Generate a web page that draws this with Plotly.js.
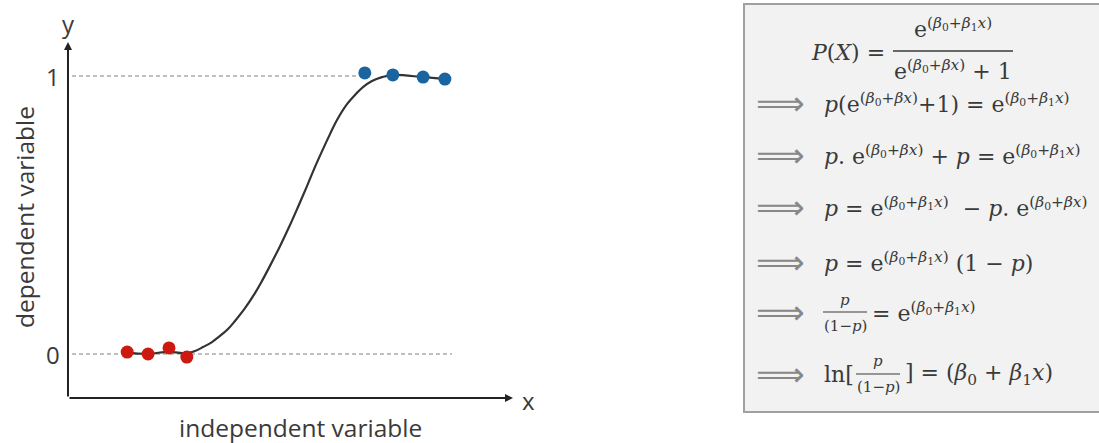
<!DOCTYPE html>
<html><head><meta charset="utf-8">
<script src="https://cdn.plot.ly/plotly-3.0.1.min.js"></script>
<style>html,body{margin:0;padding:0;background:#fff}</style>
</head><body><div id="chart" style="width:1099px;height:443px"></div>
<script>
// data (x: axis units 0..10, y: probability)
const class0X = [1.33, 1.80, 2.27, 2.67];
const class0Y = [0.007, 0.0, 0.022, -0.011];
const class1X = [6.67, 7.30, 7.98, 8.47];
const class1Y = [1.011, 1.004, 0.996, 0.989];
const curveX = [1.33, 1.80, 2.27, 2.67, 2.854, 3.034, 3.236, 3.416, 3.596, 3.753, 3.978, 4.202, 4.360, 4.539, 4.764, 4.989, 5.169, 5.371, 5.551, 5.730, 5.888, 6.045, 6.270, 6.449, 6.629, 6.831, 7.056, 7.303, 7.98, 8.47];
const curveY = [0.004, 0.001, 0.008, 0.003, 0.011, 0.025, 0.043, 0.065, 0.090, 0.119, 0.165, 0.219, 0.263, 0.317, 0.388, 0.464, 0.529, 0.604, 0.673, 0.737, 0.791, 0.842, 0.899, 0.932, 0.960, 0.982, 0.996, 1.004, 0.996, 0.989];
const tickVals = [0, 1];
const tickText = ['0', '1'];
const xAxisLabel = 'independent variable';
const yAxisLabel = 'dependent variable';
const eqLines = [
  '<i>p</i>(e<sup>(<i>β</i><sub>0</sub>+<i>βx</i>)</sup>+1) = e<sup>(<i>β</i><sub>0</sub>+<i>β</i><sub>1</sub><i>x</i>)</sup>',
  '<i>p</i>. e<sup>(<i>β</i><sub>0</sub>+<i>βx</i>)</sup> + <i>p</i> = e<sup>(<i>β</i><sub>0</sub>+<i>β</i><sub>1</sub><i>x</i>)</sup>',
  '<i>p</i> = e<sup>(<i>β</i><sub>0</sub>+<i>β</i><sub>1</sub><i>x</i>)</sup>  − <i>p</i>. e<sup>(<i>β</i><sub>0</sub>+<i>βx</i>)</sup>',
  '<i>p</i> = e<sup>(<i>β</i><sub>0</sub>+<i>β</i><sub>1</sub><i>x</i>)</sup> (1 − <i>p</i>)'
];

const W = 1099, H = 443;
const PX = v => v / W, PY = v => 1 - v / H;
const axisY = -0.158, axisXEnd = 10, axisYEnd = 1.122;
const txt = '#3a3a3a';
const serif = 'DejaVu Serif, serif';
const sans = 'Open Sans, sans-serif';

const traces = [
  {x: curveX, y: curveY, mode: 'lines', line: {color: '#333', width: 2.2, shape: 'spline', smoothing: 1}, hoverinfo: 'skip'},
  {x: class0X, y: class0Y, mode: 'markers', marker: {color: '#cc1a10', size: 13}},
  {x: class1X, y: class1Y, mode: 'markers', marker: {color: '#1a64a0', size: 13}}
];

const ann = [];
const A = o => ann.push(Object.assign({xref: 'paper', yref: 'paper', xanchor: 'center', yanchor: 'middle', showarrow: false}, o));
// axis arrows
ann.push({x: axisXEnd, y: axisY, ax: 0, ay: axisY, axref: 'x', ayref: 'y', xref: 'x', yref: 'y', text: '', showarrow: true, arrowhead: 2, arrowsize: 0.8, arrowwidth: 2, arrowcolor: '#222', standoff: 0, startstandoff: 0});
ann.push({x: 0, y: axisYEnd, ax: 0, ay: axisY, axref: 'x', ayref: 'y', xref: 'x', yref: 'y', text: '', showarrow: true, arrowhead: 2, arrowsize: 0.8, arrowwidth: 2, arrowcolor: '#222', standoff: 0, startstandoff: 0});
tickVals.forEach((v, i) => A({x: -0.34, y: v, xref: 'x', yref: 'y', text: tickText[i], font: {family: sans, size: 24, color: txt}}));
A({x: PX(68), y: PY(23), text: 'y', font: {family: sans, size: 24, color: txt}});
A({x: PX(528), y: PY(400), text: 'x', font: {family: sans, size: 24, color: txt}});
A({x: PX(300), y: PY(427), text: xAxisLabel, font: {family: sans, size: 24.5, color: txt}});
A({x: PX(24), y: PY(217), text: yAxisLabel, textangle: -90, font: {family: sans, size: 24.5, color: txt}});

// equations
const ef = {family: serif, size: 22, color: txt};
const arrowF = {family: 'DejaVu Sans', size: 34, color: '#888'};
A({x: PX(887), y: PY(52), xanchor: 'right', text: '<i>P</i>(<i>X</i>) =', font: ef});
A({x: PX(953), y: PY(28), text: 'e<sup>(<i>β</i><sub>0</sub>+<i>β</i><sub>1</sub><i>x</i>)</sup>', font: ef});
A({x: PX(953), y: PY(70), text: 'e<sup>(<i>β</i><sub>0</sub>+<i>βx</i>)</sup> + 1', font: ef});
const rowY = [103, 155, 207, 262, 312, 374];
rowY.forEach(y => A({x: PX(780), y: PY(y), text: '⟹', font: arrowF}));
eqLines.forEach((t, i) => A({x: PX(822), y: PY(rowY[i]), xanchor: 'left', text: t, font: ef}));
const sf = {family: serif, size: 15, color: txt};
// row 6
A({x: PX(845), y: PY(300), text: '<i>p</i>', font: sf});
A({x: PX(845), y: PY(326), text: '(1−<i>p</i>)', font: sf});
A({x: PX(870), y: PY(312), xanchor: 'left', text: '= e<sup>(<i>β</i><sub>0</sub>+<i>β</i><sub>1</sub><i>x</i>)</sup>', font: ef});
// row 7
A({x: PX(822), y: PY(374), xanchor: 'left', text: 'ln[', font: ef});
A({x: PX(878), y: PY(361), text: '<i>p</i>', font: sf});
A({x: PX(878), y: PY(387), text: '(1−<i>p</i>)', font: sf});
A({x: PX(903), y: PY(374), xanchor: 'left', text: '] = (<i>β</i><sub>0</sub> + <i>β</i><sub>1</sub><i>x</i>)', font: ef});

const shapes = [
  {type: 'line', xref: 'x', yref: 'y', x0: 0.09, x1: 8.63, y0: 0, y1: 0, line: {color: '#aaa', width: 1.5, dash: '4px,3px'}, layer: 'below'},
  {type: 'line', xref: 'x', yref: 'y', x0: 0.09, x1: 6.67, y0: 1, y1: 1, line: {color: '#aaa', width: 1.5, dash: '4px,3px'}, layer: 'below'},
  {type: 'rect', xref: 'paper', yref: 'paper', x0: PX(744), x1: PX(1104), y0: PY(412), y1: PY(4), fillcolor: '#f2f2f2', line: {color: '#a0a0a0', width: 2}, layer: 'below'},
  {type: 'line', xref: 'paper', yref: 'paper', x0: PX(893), x1: PX(1013), y0: PY(51), y1: PY(51), line: {color: txt, width: 1.5}},
  {type: 'line', xref: 'paper', yref: 'paper', x0: PX(823), x1: PX(867), y0: PY(312), y1: PY(312), line: {color: txt, width: 1.2}},
  {type: 'line', xref: 'paper', yref: 'paper', x0: PX(856), x1: PX(900), y0: PY(374), y1: PY(374), line: {color: txt, width: 1.2}}
];

const layout = {
  width: W, height: H, margin: {l: 0, r: 0, t: 0, b: 0},
  paper_bgcolor: '#fff', plot_bgcolor: 'rgba(0,0,0,0)', showlegend: false,
  xaxis: {range: [-1.528, 23.169], visible: false, fixedrange: true},
  yaxis: {range: [-0.3201, 1.2734], visible: false, fixedrange: true},
  annotations: ann, shapes: shapes
};
Plotly.newPlot('chart', traces, layout, {displayModeBar: false, staticPlot: true});
</script></body></html>
